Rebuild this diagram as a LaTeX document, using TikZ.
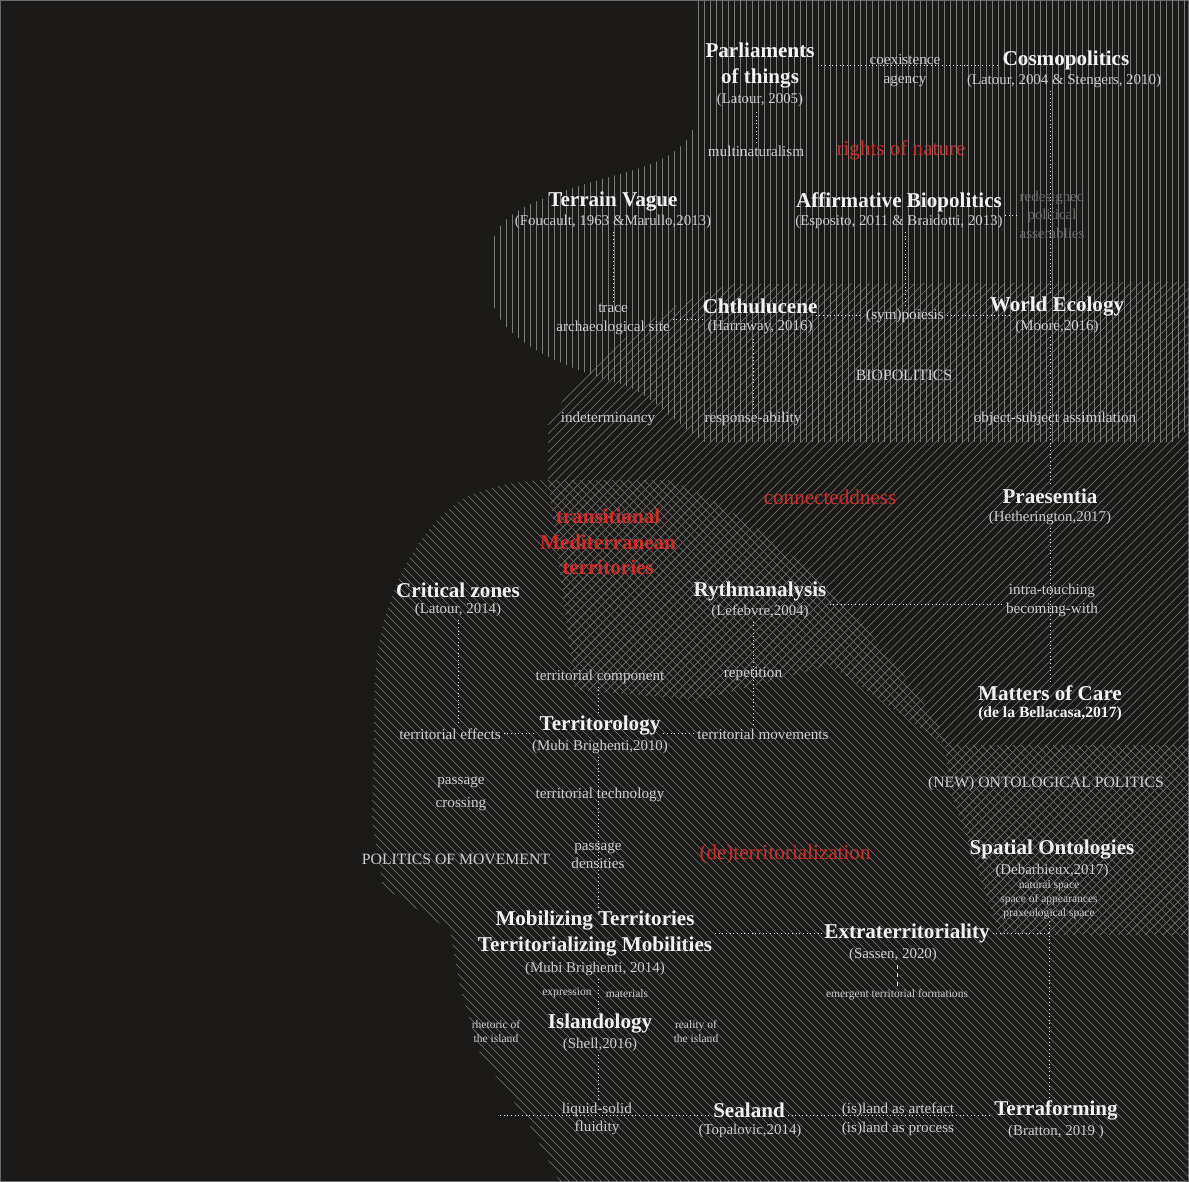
\documentclass[tikz,border=0pt]{standalone}
\usepackage{fontspec}
\setmainfont{Liberation Serif}
\usepackage{tikz}
\usetikzlibrary{calc}
\definecolor{mapbg}     {RGB}{27,  26,  24}
\definecolor{hatchgrey} {RGB}{122, 122, 120}
\definecolor{headwhite} {RGB}{242, 242, 242}
\definecolor{citegrey}  {RGB}{205, 205, 205}
\definecolor{mapred}    {RGB}{205,  45,  42}
\definecolor{fadegrey}  {RGB}{105, 105, 105}

\tikzset{
	head/.style={text=headwhite, font=\bfseries\fontsize{15}{18.5}\selectfont, inner sep=2pt, align=center, yshift=-2pt},
	cite/.style={text=citegrey, font=\fontsize{10.6}{12}\selectfont, inner sep=2pt, yshift=-2pt},
	note/.style={text=citegrey, font=\fontsize{10.8}{13.5}\selectfont, inner sep=2pt, align=center, yshift=-2pt},
	caps/.style={text=citegrey, font=\fontsize{11.2}{12}\selectfont, inner sep=2pt, yshift=-2pt},
	small/.style={text=citegrey, font=\fontsize{8.2}{10}\selectfont, inner sep=1pt, align=center, yshift=-1.5pt},
	hot/.style={text=mapred, font=\fontsize{15}{16}\selectfont, inner sep=2pt, yshift=-2pt},
	link/.style={draw=headwhite, dotted, line width=0.6pt},
	hatch/.style={draw=hatchgrey, line width=0.3pt}
}

\begin{document}
\begin{tikzpicture}[x=0.025cm, y=-0.025cm]
	\fill[mapbg] (0,0) rectangle (1189,1182);
	\useasboundingbox (0,0) rectangle (1189,1182);
	\draw[fadegrey, line width=0.5pt] (0.5,0.5) rectangle (1188.5,1181.5);

	% hatched grounds
	\begin{scope}
		\clip (698,0) -- (1189,0) -- (1189,428) -- (1175,442) -- (705,442) .. controls (670,420) and (650,392) .. (620,384) .. controls (560,366) and (500,340) .. (492,300) -- (492,245) .. controls (498,205) and (560,192) .. (640,168) .. controls (688,152) and (698,130) .. (698,100) -- cycle;
		\foreach \k in {488,494,...,1190} \draw[hatch] (\k,0) -- (\k,450);
	\end{scope}
	\begin{scope}
		\clip (548,480) -- (548,425) .. controls (575,370) and (660,300) .. (735,284) -- (1189,282) -- (1189,935) -- (1000,935) -- (950,790) -- (945,745) -- (830,665) -- (700,700) -- (575,690) -- cycle;
		\foreach \k in {820,829,...,2140} \draw[hatch] (\k,0) -- ({\k-1200},1200);
	\end{scope}
	\begin{scope}
		\clip (372,820) -- (375,680) .. controls (378,600) and (420,520) .. (470,495) .. controls (500,484) and (520,480) .. (560,480) -- (668,480) .. controls (760,515) and (870,610) .. (950,745) -- (1189,745) -- (1189,1182) -- (560,1182) -- (527,1120) -- (480,1053) -- (460,987) -- (450,930) -- (383,887) -- cycle;
		\foreach \k in {-820,-812,...,720} \draw[hatch] (\k,0) -- ({\k+1200},1200);
	\end{scope}

	% top
	\node[head] (parl) at (760,63) {Parliaments\\of things};
	\node[cite] (parlc) at (760,97) {(Latour, 2005)};
	\node[note] (coex) at (905,57) {coexistence};
	\node[note] (agen) at (905,78) {agency};
	\node[head] (cosmo) at (1066,58) {Cosmopolitics};
	\node[cite] (cosmoc) at (1064,78) {(Latour, 2004 \& Stengers, 2010)};
	\node[note] (multi) at (756,148) {multinaturalism};
	\node[hot] (rights) at (901,148) {rights of nature};

	\node[head] (terrain) at (613,199) {Terrain Vague};
	\node[cite] (terrainc) at (613,219) {(Foucault, 1963 \&Marullo,2013)};
	\node[head] (affirm) at (899,200) {Affirmative Biopolitics};
	\node[cite] (affirmc) at (899,219) {(Esposito, 2011 \& Braidotti, 2013)};
	\node[note, text=fadegrey, font=\fontsize{10.6}{13.3}\selectfont] (redes) at (1052,212) {redesigned\\political\\assemblies};

	\node[note] (trace) at (613,317) {trace\\archaeological site};
	\node[head] (chthu) at (760,303) {Chthulucene};
	\node[cite] (chthuc) at (760,324) {(Harraway, 2016)};
	\node[note] (sym) at (905,313) {(sym)poiesis};
	\node[head] (world) at (1057,304) {World Ecology};
	\node[cite] (worldc) at (1057,324) {(Moore,2016)};
	\node[caps] (bio) at (904,373) {BIOPOLITICS};
	\node[note] (indet) at (608,416) {indeterminancy};
	\node[note] (resp) at (753,416) {response-ability};
	\node[note] (objsub) at (1055,416) {object-subject assimilation};

	% middle
	\node[hot] (conn) at (830,494) {connecteddness};
	\node[head] (praes) at (1050,493) {Praesentia};
	\node[cite] (praesc) at (1050,515) {(Hetherington,2017)};
	\node[hot, font=\bfseries\fontsize{15}{18}\selectfont, align=center] (medit) at (608,539) {transitional\\Mediterranean\\territories};
	\node[head] (critical) at (458,587) {Critical zones};
	\node[cite] (criticalc) at (458,607) {(Latour, 2014)};
	\node[head] (rythm) at (760,589) {Rythmanalysis};
	\node[cite] (rythmc) at (760,609) {(Lefebvre,2004)};
	\node[note] (intra) at (1052,598) {intra-touching\\becoming-with};
	\node[note] (tcomp) at (600,674) {territorial component};
	\node[note] (repet) at (753,671) {repetition};
	\node[head] (care) at (1050,690) {Matters of Care};
	\node[cite, font=\bfseries\fontsize{11.1}{12}\selectfont, text=headwhite] (carec) at (1050,711) {(de la Bellacasa,2017)};
	\node[note] (teff) at (450,731) {territorial effects};
	\node[head] (terr) at (600,723) {Territorology};
	\node[cite] (terrc) at (600,744) {(Mubi Brighenti,2010)};
	\node[note] (tmov) at (763,731) {territorial movements};

	% lower
	\node[note, font=\fontsize{10.8}{16.4}\selectfont] (passcross) at (461,791) {passage\\crossing};
	\node[note] (ttech) at (600,792) {territorial technology};
	\node[caps] (newonto) at (1046,781) {(NEW) ONTOLOGICAL POLITICS};
	\node[caps] (polmov) at (456,857) {POLITICS OF MOVEMENT};
	\node[note, font=\fontsize{10.8}{12.8}\selectfont] (passdens) at (598,853) {passage\\densities};
	\node[hot] (deterr) at (785,852) {(de)territorialization};
	\node[head] (spatial) at (1052,847) {Spatial Ontologies};
	\node[cite] (spatialc) at (1052,868) {(Debarbieux,2017)};
	\node[small] (spatialsub) at (1049,898) {natural space\\space of appearances\\praxeological space};
	\node[head] (mobil) at (595,931) {Mobilizing Territories\\Territorializing Mobilities};
	\node[cite] (mobilc) at (595,966) {(Mubi Brighenti, 2014)};
	\node[head] (extra) at (907,931) {Extraterritoriality};
	\node[cite] (extrac) at (893,952) {(Sassen, 2020)};
	\node[small] (emerg) at (897,993) {emergent territorial formations};
	\node[small] (expr) at (567,991) {expression};
	\node[small] (mater) at (627,991) {materials};
	\node[small] (rhet) at (496,1029) {rhetoric of\\the island};
	\node[small] (real) at (696,1029) {reality of\\the island};
	\node[head] (island) at (600,1021) {Islandology};
	\node[cite] (islandc) at (600,1042) {(Shell,2016)};
	\node[note, font=\fontsize{10.8}{12.8}\selectfont] (liquid) at (597,1116) {liquid-solid\\fluidity};
	\node[head] (sealand) at (749,1107) {Sealand};
	\node[cite] (sealandc) at (750,1128) {(Topalovic,2014)};
	\node[note] (isl) at (898,1116) {(is)land as artefact\\(is)land as process};
	\node[head] (terraf) at (1056,1108) {Terraforming};
	\node[cite] (terrafc) at (1056,1129) {(Bratton, 2019 )};
	\coordinate (shore) at (500,1115);

	% links
	\draw[link] (parl.east) -- (parl.east -| cosmo.west);
	\draw[link] (multi.north) -- (multi.north |- parlc.south);
	\draw[link] (cosmoc.south -| praes.north) -- (praes.north |- world.north);
	\draw[link] (praes.north |- worldc.south) -- (praes.north);
	\draw[link] (praesc.south) -- (praesc.south |- care.north);
	\draw[link] (terrainc.south) -- (terrainc.south |- trace.north);
	\draw[link] (trace.east) -- (trace.east -| chthuc.west);
	\draw[link] (chthuc.east |- sym.west) -- (sym.west);
	\draw[link] (sym.east) -- (sym.east -| worldc.west);
	\draw[link] (sym.north) -- (sym.north |- affirmc.south);
	\draw[link] (affirm.south east) -- (affirm.south east -| redes.west);
	\draw[link] (resp.north) -- (resp.north |- chthuc.south);
	\draw[link] (rythm.south east) -- (rythm.south east -| intra.west);
	\draw[link] (criticalc.south) -- (criticalc.south |- teff.north);
	\draw[link] (rythmc.south -| repet.north) -- (repet.north |- tmov.north);
	\draw[link] (tcomp.south -| passdens.north) -- (passdens.north |- terr.north);
	\draw[link] (teff.east) -- (teff.east -| terr.west);
	\draw[link] (terr.east |- teff.east) -- (tmov.west);
	\draw[link] (terrc.south -| passdens.north) -- (passdens.north |- mobil.north);
	\draw[link] (mobil.east) -- (mobil.east -| extra.west);
	\draw[link] (extra.east) -- (extra.east -| spatialsub.south);
	\draw[link] (spatialsub.south) -- (spatialsub.south |- terraf.north);
	\draw[headwhite, dashed, line width=0.7pt] (extrac.south -| emerg.north) -- (emerg.north);
	\draw[link] (mobilc.south -| passdens.north) -- (passdens.north |- island.north);
	\draw[link] (islandc.south -| passdens.north) -- (passdens.north |- liquid.north);
	\draw[link] (shore) -- (shore -| sealand.west);
	\draw[link] (sealand.east |- shore) -- (shore -| terraf.west);
\end{tikzpicture}
\end{document}
